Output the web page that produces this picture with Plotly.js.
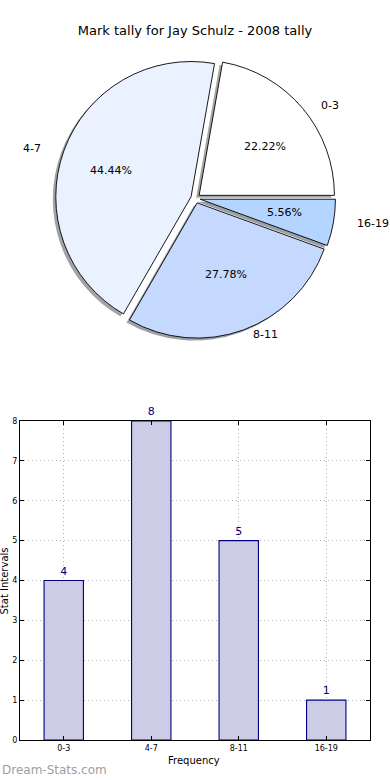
<!DOCTYPE html>
<html>
<head>
<meta charset="utf-8">
<script src="https://cdn.plot.ly/plotly-3.0.1.min.js"></script>
<style>html,body{margin:0;padding:0;background:#fff;}#chart{width:390px;height:780px;}</style>
</head>
<body>
<div id="chart"></div>
<script>
// ---- data ----
const categories = ['0-3', '4-7', '8-11', '16-19'];
const counts = [4, 8, 5, 1];
const sliceColors = ['#FFFFFF', '#EAF1FF', '#C5D9FF', '#B3D5FF'];
const shadowColors = ['#a6a6a6', '#a2a3a6', '#9da1a6', '#9ba0a6'];
const chartTitle = 'Mark tally for Jay Schulz - 2008 tally';
const xTitle = 'Frequency';
const yTitle = 'Stat Intervals';
const watermark = 'Dream-Stats.com';

// ---- geometry (layout only) ----
const W = 390, H = 780;
const FONT = 'DejaVu Sans, Verdana, sans-serif';
const PULL = 0.035;
const CX = 195.5, CY = 198.4, BOX = 140;        // pie centre and half box (px)
const RX = 143, RY = 128, EXP = 4.5;            // text placement geometry (px)

const px = v => v / W;
const py = v => 1 - v / H;

const pieDomain = {x: [px(CX - BOX), px(CX + BOX)], y: [py(CY + BOX), py(CY - BOX)]};
const shadowDomain = {x: [px(CX - BOX - 3), px(CX + BOX - 3)], y: [py(CY + BOX + 2.5), py(CY - BOX + 2.5)]};

const total = counts.reduce((a, b) => a + b, 0);
const pulls = counts.map(() => PULL);
// first slice should start at 3 o'clock and run counterclockwise
const rot = 90 - 360 * counts[0] / total;

const shadow = {
  type: 'pie', labels: categories, values: counts, sort: false,
  direction: 'counterclockwise', rotation: rot, pull: pulls,
  domain: shadowDomain, textinfo: 'none', hoverinfo: 'skip',
  marker: {colors: shadowColors, line: {width: 0}}, showlegend: false
};
const pie = {
  type: 'pie', labels: categories, values: counts, sort: false,
  direction: 'counterclockwise', rotation: rot, pull: pulls,
  domain: pieDomain, textinfo: 'none',
  marker: {colors: sliceColors, line: {color: '#000000', width: 0.9}},
  showlegend: false
};
const bars = {
  type: 'bar', x: categories, y: counts, width: 0.45,
  marker: {color: '#CCCCE6', line: {color: '#000080', width: 1.1}},
  text: counts.map(String), textposition: 'outside', cliponaxis: false,
  textfont: {family: FONT, size: 11, color: '#000080'},
  xaxis: 'x', yaxis: 'y', showlegend: false
};

// pie text annotations computed from the values
const annotations = [];
let cum = 0;
counts.forEach((v, i) => {
  const mid = (cum + v / 2) / total * 2 * Math.PI;
  cum += v;
  const c = Math.cos(mid), s = Math.sin(mid);
  const vx = CX + EXP * c, vy = CY - EXP * s;
  const pct = (v / total * 100).toFixed(2) + '%';
  annotations.push({xref: 'paper', yref: 'paper', x: px(vx + 0.6 * RX * c), y: py(vy - 0.6 * RY * s),
    text: pct, showarrow: false, xanchor: 'center', yanchor: 'middle',
    font: {family: FONT, size: 11, color: '#000'}});
  annotations.push({xref: 'paper', yref: 'paper', x: px(vx + 1.1 * RX * c), y: py(vy - 1.1 * RY * s),
    text: categories[i], showarrow: false, xanchor: c >= 0 ? 'left' : 'right', yanchor: 'middle',
    font: {family: FONT, size: 11, color: '#000'}});
});
annotations.push({xref: 'paper', yref: 'paper', x: px(3.5), y: py(581), text: yTitle, textangle: -90,
  showarrow: false, xanchor: 'center', yanchor: 'middle', font: {family: FONT, size: 10, color: '#000'}});
annotations.push({xref: 'paper', yref: 'paper', x: px(194), y: py(760), text: xTitle,
  showarrow: false, xanchor: 'center', yanchor: 'middle', font: {family: FONT, size: 10, color: '#000'}});
annotations.push({xref: 'paper', yref: 'paper', x: 0, y: py(770), text: watermark,
  showarrow: false, xanchor: 'left', yanchor: 'middle', font: {family: FONT, size: 12, color: '#a0a0a0'}});

const axisCommon = {
  showline: true, linecolor: '#000', linewidth: 1, mirror: 'ticks',
  ticks: 'inside', ticklen: 4, tickcolor: '#000', tickwidth: 1,
  showgrid: true, gridcolor: '#b0b0b0', griddash: '1px,3px', gridwidth: 1,
  zeroline: false, tickfont: {family: FONT, size: 8, color: '#000'}, fixedrange: true
};

const layout = {
  width: W, height: H, autosize: false,
  margin: {l: 0, r: 0, t: 0, b: 0},
  paper_bgcolor: '#fff', plot_bgcolor: '#fff',
  title: {text: chartTitle, x: 0.5, xanchor: 'center', y: py(30), yanchor: 'middle',
    font: {family: FONT, size: 13, color: '#000'}},
  xaxis: Object.assign({}, axisCommon, {domain: [px(20), px(370)], anchor: 'y',
    type: 'category', range: [-0.5, 3.5]}),
  yaxis: Object.assign({}, axisCommon, {domain: [py(740), py(421)], anchor: 'x',
    range: [0, 8], dtick: 1}),
  annotations: annotations,
  showlegend: false
};

Plotly.newPlot('chart', [shadow, pie, bars], layout, {displayModeBar: false, staticPlot: true});
</script>
</body>
</html>
